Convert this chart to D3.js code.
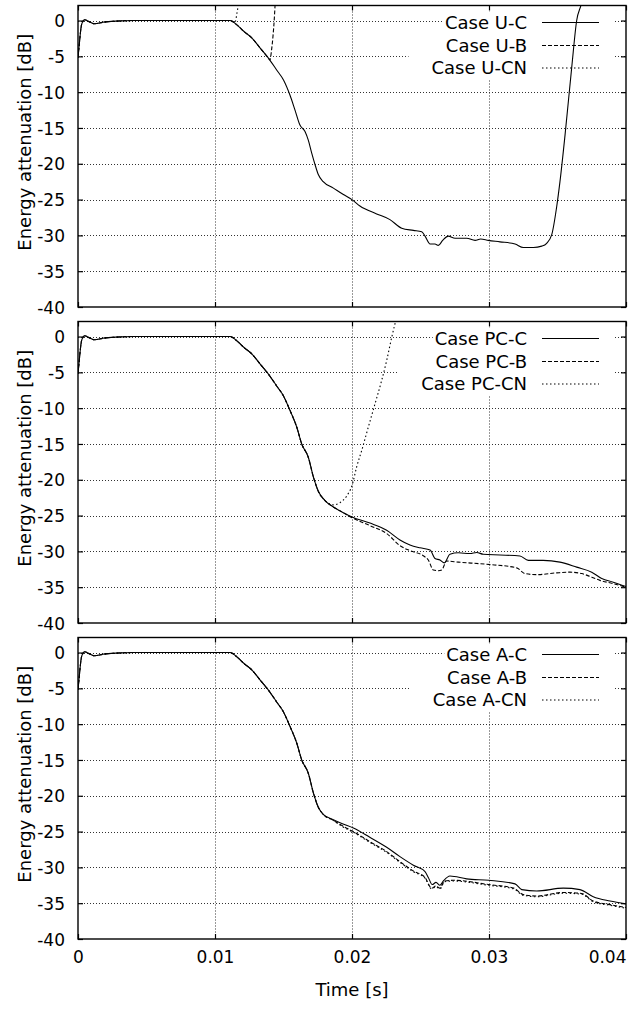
<!DOCTYPE html>
<html>
<head>
<meta charset="utf-8">
<script src="https://cdn.jsdelivr.net/npm/d3@7/dist/d3.min.js"></script>
<style>
  body { margin: 0; background: #fff; }
  text { fill: #000; }
  .reg { font-family: "DejaVu Sans", sans-serif; }
</style>
</head>
<body>
<div id="chart"></div>
<script>
// Time [s] vs energy attenuation [dB], three stacked panels

var timeTicks = [0, 0.01, 0.02, 0.03, 0.04];
var dbTicks = [0, -5, -10, -15, -20, -25, -30, -35, -40];

// start of the record, shared by every case (t <= 0.011 s)
var onset = [[0, -5.2], [0.00008, -3.6], [0.00015, -2.2], [0.00027, -0.5], [0.0005, 0.1],
  [0.00075, -0.1], [0.0012, -0.45], [0.0018, -0.25], [0.0028, -0.08], [0.004, 0], [0.011, 0]];

// --- case U ---
var uC = [[0.0111, 0], [0.0116, -0.6], [0.0121, -1.5], [0.0127, -2.45], [0.0133, -3.85],
  [0.0139, -5.25], [0.0145, -6.9], [0.0150, -8.3], [0.01547, -10.4], [0.01584, -12.5],
  [0.0162, -14.6], [0.01657, -15.5], [0.01681, -16.7], [0.01706, -18.5], [0.0173, -20.1],
  [0.01754, -21.5], [0.0179, -22.5], [0.01864, -23.4], [0.01937, -24.3], [0.0200, -25.0],
  [0.02058, -25.9], [0.0218, -27.0], [0.02277, -27.8], [0.02363, -29.0], [0.02448, -29.3],
  [0.02509, -29.5], [0.02533, -30.1], [0.0257, -31.2], [0.02606, -31.2], [0.0263, -31.4],
  [0.02662, -30.7], [0.02703, -30.1], [0.02752, -30.4], [0.02837, -30.4], [0.02898, -30.7],
  [0.02939, -30.5], [0.02995, -30.7], [0.0308, -30.9], [0.0319, -31.2], [0.0325, -31.7],
  [0.03324, -31.7], [0.03385, -31.5], [0.03421, -31.1], [0.03458, -29.9], [0.03494, -26.0],
  [0.03518, -22.5], [0.03555, -16.0], [0.03604, -6.5], [0.0364, 0], [0.03676, 2.5], [0.0372, 8]];
var uB = [[0.0111, 0], [0.0116, -0.6], [0.0121, -1.5], [0.0127, -2.45], [0.0133, -3.85],
  [0.0139, -5.25], [0.01401, -5.5], [0.01413, -4.1], [0.01425, -1.8], [0.01432, 0],
  [0.01438, 2], [0.01448, 6]];
var uCN = [[0.0111, 0], [0.01145, -0.3], [0.0116, 1.0], [0.0117, 2.2], [0.0119, 6]];

// --- case PC ---
var pcC = [[0.0111, 0], [0.0116, -0.6], [0.0121, -1.5], [0.0127, -2.45], [0.0133, -3.85],
  [0.0139, -5.25], [0.0145, -6.9], [0.0150, -8.3], [0.01547, -10.3], [0.01596, -12.6],
  [0.01633, -15.0], [0.01681, -16.85], [0.01718, -19.6], [0.01754, -21.6], [0.01803, -22.9],
  [0.01864, -23.8], [0.01937, -24.6], [0.0200, -25.2], [0.02131, -26.05], [0.02253, -27.05],
  [0.0235, -28.4], [0.02423, -29.1], [0.02496, -29.5], [0.0257, -29.8], [0.02606, -31.0],
  [0.02642, -31.2], [0.02674, -31.6], [0.02715, -30.4], [0.02776, -30.2], [0.02861, -30.3],
  [0.0291, -30.15], [0.02958, -30.4], [0.0308, -30.5], [0.03226, -30.65], [0.03287, -31.25],
  [0.03396, -31.25], [0.03518, -31.5], [0.0364, -32.2], [0.0375, -32.9], [0.03823, -33.8],
  [0.03907, -34.3], [0.04, -34.9]];
var pcB = [[0.0111, 0], [0.0116, -0.6], [0.0121, -1.5], [0.0127, -2.45], [0.0133, -3.85],
  [0.0139, -5.25], [0.0145, -6.9], [0.0150, -8.3], [0.01547, -10.3], [0.01596, -12.6],
  [0.01633, -15.0], [0.01681, -16.85], [0.01718, -19.6], [0.01754, -21.6], [0.01803, -22.9],
  [0.01864, -23.8], [0.01937, -24.6], [0.0200, -25.3], [0.02131, -26.4], [0.02253, -27.5],
  [0.0235, -29.2], [0.02423, -29.9], [0.0252, -30.6], [0.02557, -31.2], [0.02594, -32.6],
  [0.0263, -32.7], [0.02655, -32.6], [0.02691, -31.35], [0.02776, -31.5], [0.02983, -31.8],
  [0.03202, -32.3], [0.03263, -33.1], [0.03348, -33.25], [0.03494, -33.0], [0.03591, -32.9],
  [0.03677, -33.1], [0.0375, -33.6], [0.0381, -34.05], [0.03907, -34.5], [0.04, -35.0]];
var pcCN = [[0.0111, 0], [0.0116, -0.6], [0.0121, -1.5], [0.0127, -2.45], [0.0133, -3.85],
  [0.0139, -5.25], [0.0145, -6.9], [0.0150, -8.3], [0.01547, -10.3], [0.01596, -12.6],
  [0.01633, -15.0], [0.01681, -16.85], [0.01718, -19.6], [0.01754, -21.6], [0.01803, -22.9],
  [0.01864, -23.5], [0.01912, -23.2], [0.0196, -22.3], [0.0200, -20.8], [0.02034, -18.2],
  [0.02071, -15.9], [0.02119, -12.65], [0.02168, -9.4], [0.02217, -6.1], [0.02253, -3.35],
  [0.0229, -0.1], [0.02314, 1.8], [0.0235, 4.5]];

// --- case A ---
var aC = [[0.0111, 0], [0.0116, -0.6], [0.0121, -1.5], [0.0127, -2.45], [0.0133, -3.85],
  [0.0139, -5.25], [0.0145, -6.9], [0.0150, -8.3], [0.01547, -10.3], [0.01596, -12.6],
  [0.01633, -15.0], [0.01681, -16.85], [0.01718, -19.6], [0.01754, -21.6], [0.0179, -22.6],
  [0.0186, -23.3], [0.0193, -23.9], [0.0201, -24.5], [0.0213, -25.8], [0.02253, -27.2],
  [0.0235, -28.5], [0.02448, -29.7], [0.02533, -30.6], [0.02557, -31.4], [0.02586, -32.4],
  [0.02613, -32.1], [0.02642, -32.5], [0.02667, -31.9], [0.02715, -31.2], [0.02837, -31.6],
  [0.02998, -31.8], [0.0319, -32.3], [0.03239, -33.1], [0.03348, -33.3], [0.03542, -32.9],
  [0.03664, -33.1], [0.03761, -34.1], [0.03883, -34.7], [0.04, -35.1]];
var aB = [[0.0111, 0], [0.0116, -0.6], [0.0121, -1.5], [0.0127, -2.45], [0.0133, -3.85],
  [0.0139, -5.25], [0.0145, -6.9], [0.0150, -8.3], [0.01547, -10.3], [0.01596, -12.6],
  [0.01633, -15.0], [0.01681, -16.85], [0.01718, -19.6], [0.01754, -21.6], [0.0179, -22.6],
  [0.0186, -23.4], [0.0193, -24.2], [0.0201, -25.0], [0.0213, -26.4], [0.02253, -27.8],
  [0.0235, -29.2], [0.02448, -30.5], [0.02533, -31.4], [0.02581, -32.9], [0.02613, -32.6],
  [0.02642, -32.9], [0.02676, -31.9], [0.0274, -31.8], [0.02998, -32.4], [0.0318, -32.9],
  [0.0325, -33.8], [0.03348, -34.0], [0.03542, -33.5], [0.03677, -33.65], [0.03761, -34.7],
  [0.03883, -35.2], [0.04, -35.6]];
var aCN = [[0.0111, 0], [0.0116, -0.6], [0.0121, -1.5], [0.0127, -2.45], [0.0133, -3.85],
  [0.0139, -5.25], [0.0145, -6.9], [0.0150, -8.3], [0.01547, -10.3], [0.01596, -12.6],
  [0.01633, -15.0], [0.01681, -16.85], [0.01718, -19.6], [0.01754, -21.6], [0.0179, -22.6],
  [0.0186, -23.4], [0.0193, -24.3], [0.0201, -25.1], [0.0213, -26.5], [0.02253, -27.9],
  [0.0235, -29.3], [0.02448, -30.6], [0.02533, -31.5], [0.02581, -33.0], [0.02613, -32.7],
  [0.02642, -33.0], [0.02676, -32.0], [0.0274, -31.9], [0.02998, -32.5], [0.0318, -33.0],
  [0.0325, -33.9], [0.03348, -34.1], [0.03542, -33.6], [0.03677, -33.75], [0.03761, -34.8],
  [0.03883, -35.3], [0.04, -35.7]];

var caseNames = ["U", "PC", "A"];
var seriesKinds = ["C", "B", "CN"];
var panelSeries = [[uC, uB, uCN], [pcC, pcB, pcCN], [aC, aB, aCN]];

var dashes = {C: null, B: "4,2", CN: "1.5,2.5"};

var W = 639, H = 1010;
var left = 78, right = 626;
var panelTops = [5.5, 321.5, 637.5], panelH = 301.5;

var svg = d3.select("#chart").append("svg")
    .attr("width", W)
    .attr("height", H);

var x = d3.scaleLinear()
    .domain([0, 0.04])
    .range([left, right]);

var line = d3.line()
    .x(d => x(d[0]))
    .curve(d3.curveMonotoneX);

panelSeries.forEach((series, p) => {
    var top = panelTops[p];
    var y = d3.scaleLinear()
        .domain([-40, 2.1])
        .range([top + panelH, top]);
    line.y(d => y(d[1]));

    var g = svg.append("g");

    // grid
    g.append("g").selectAll("line")
        .data(dbTicks.filter(d => d > -40))
        .enter().append("line")
            .attr("x1", left).attr("x2", right)
            .attr("y1", d => Math.round(y(d)) + 0.5).attr("y2", d => Math.round(y(d)) + 0.5)
            .attr("stroke", "#333").attr("stroke-dasharray", "1,2");
    g.append("g").selectAll("line")
        .data(timeTicks.slice(1, -1))
        .enter().append("line")
            .attr("x1", d => Math.round(x(d)) + 0.5).attr("x2", d => Math.round(x(d)) + 0.5)
            .attr("y1", top).attr("y2", top + panelH)
            .attr("stroke", "#333").attr("stroke-dasharray", "1,2");

    // key background, drawn over the grid
    var keyG = g.append("g");
    var labels = seriesKinds.map(k => "Case " + caseNames[p] + "-" + k);
    var rowY = [16.5, 39.5, 62];
    var texts = labels.map((lab, i) => keyG.append("text")
        .attr("class", "reg")
        .attr("x", 527)
        .attr("y", top + rowY[i] + 6.5)
        .attr("text-anchor", "end")
        .attr("font-size", "18px")
        .text(lab));
    var starts = texts.map(t => t.node().getBBox().x);
    keyG.insert("rect", "text")
        .attr("x", starts[0] - 2).attr("y", top + 6)
        .attr("width", 613 - starts[0] + 2).attr("height", 20)
        .attr("fill", "#fff");
    keyG.insert("rect", "text")
        .attr("x", d3.min(starts) - 23).attr("y", top + 26)
        .attr("width", 613 - d3.min(starts) + 23).attr("height", 48)
        .attr("fill", "#fff");
    seriesKinds.forEach((k, i) => {
        keyG.append("line")
            .attr("x1", 542).attr("x2", 599)
            .attr("y1", top + rowY[i] + 0.5).attr("y2", top + rowY[i] + 0.5)
            .attr("stroke", "#000").attr("stroke-width", 1.1)
            .attr("stroke-dasharray", dashes[k]);
    });

    // axes: inward ticks on all four sides
    var yAxisL = d3.axisLeft(y).tickValues(dbTicks).tickSizeInner(-5).tickSizeOuter(0)
        .tickPadding(13).tickFormat(d => String(d));
    var yAxisR = d3.axisRight(y).tickValues(dbTicks).tickSizeInner(-5).tickSizeOuter(0).tickFormat("");
    var xAxisT = d3.axisTop(x).tickValues(timeTicks).tickSizeInner(-5).tickSizeOuter(0).tickFormat("");
    var xAxisB = d3.axisBottom(x).tickValues(timeTicks).tickSizeInner(-5).tickSizeOuter(0)
        .tickPadding(12).tickFormat(p == 2 ? (d => String(d)) : "");

    var ga = g.append("g").attr("transform", "translate(" + left + ",0)").call(yAxisL);
    g.append("g").attr("transform", "translate(" + right + ",0)").call(yAxisR);
    g.append("g").attr("transform", "translate(0," + top + ")").call(xAxisT);
    var gb = g.append("g").attr("transform", "translate(0," + (top + panelH) + ")").call(xAxisB);
    g.selectAll(".domain").remove();
    g.selectAll(".tick line").attr("stroke", "#000").attr("stroke-width", 1.2);
    ga.selectAll("text").attr("class", "reg").attr("font-size", "17px").attr("dy", "0.36em");
    gb.selectAll("text").attr("class", "reg").attr("font-size", "17px").attr("dy", "0.71em");
    gb.selectAll(".tick:last-of-type text").attr("text-anchor", "end").attr("x", 0);

    g.append("rect")
        .attr("x", left).attr("y", top)
        .attr("width", right - left).attr("height", panelH)
        .attr("fill", "none").attr("stroke", "#000").attr("stroke-width", 1.4);

    // y label
    g.append("text")
        .attr("class", "reg")
        .attr("transform", "translate(30.5," + (top + panelH / 2 - 14) + ") rotate(-90)")
        .attr("text-anchor", "middle")
        .attr("font-size", "18px")
        .text("Energy attenuation [dB]");

    // curves
    var clipId = "clip" + p;
    svg.append("clipPath").attr("id", clipId)
        .append("rect").attr("x", left).attr("y", top).attr("width", right - left).attr("height", panelH);
    var lines = g.append("g").attr("clip-path", "url(#" + clipId + ")");
    series.slice().reverse().forEach((s, ri) => {
        var i = series.length - 1 - ri;
        lines.append("path")
            .datum(onset.concat(s))
            .attr("d", line)
            .attr("fill", "none")
            .attr("stroke", "#000")
            .attr("stroke-width", 1.1)
            .attr("stroke-dasharray", dashes[seriesKinds[i]]);
    });
});

svg.append("text")
    .attr("class", "reg")
    .attr("x", x(0.02))
    .attr("y", 996)
    .attr("text-anchor", "middle")
    .attr("font-size", "18px")
    .text("Time [s]");
</script>
</body>
</html>
